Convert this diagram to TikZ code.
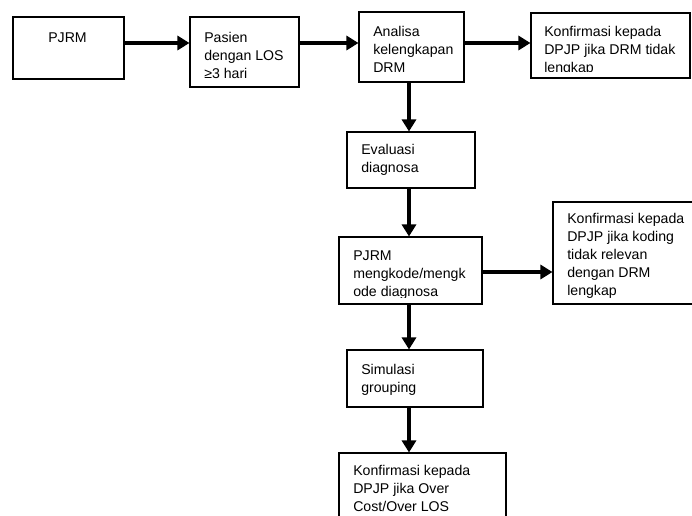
\documentclass[tikz,border=0pt]{standalone}
\usepackage{fontspec}
\setmainfont{Liberation Sans}
\usetikzlibrary{arrows.meta, fit}

\begin{document}
\begin{tikzpicture}[x=0.75pt, y=-0.75pt,
    box/.style={draw, line width=0.8pt, inner sep=0pt},
    txt/.style={anchor=base west, inner sep=0pt, font=\fontsize{10.6}{13.5}\selectfont},
    arr/.style={line width=3pt, -{Triangle[length=9pt, width=10.5pt]}}]
    \useasboundingbox (0,0) rectangle (692,515);
    \clip (0,0) rectangle (692,515);
    % Boxes
    \node[box, fit={(13,17) (124,79)}] (pjrm) {};
    \node[box, fit={(190,17) (299,87)}] (pasien) {};
    \node[box, fit={(359,12) (464,82)}] (analisa) {};
    \node[box, fit={(531,13) (690,78)}] (konf1) {};
    \node[box, fit={(347,132) (475,188)}] (evaluasi) {};
    \node[box, fit={(339,237) (482,304)}] (koding) {};
    \node[box, fit={(553,202) (696,304)}] (konf2) {};
    \node[box, fit={(347,350) (483,407)}] (simulasi) {};
    \node[box, fit={(339,453) (506,530)}] (konf3) {};
    % Texts
    \node[txt, anchor=base] (pjrmtext) at (67.5,42) {PJRM};
    \node[txt] (pasientext) at (204,42) {\parbox[t]{120pt}{Pasien\\dengan LOS\\≥3 hari}};
    \node[txt] (analisatext) at (373,36) {\parbox[t]{120pt}{Analisa\\kelengkapan\\DRM}};
    \begin{scope}
        \clip (konf1.north west) rectangle (690,71.8);
        \node[txt] (konf1text) at (544,36) {\parbox[t]{150pt}{Konfirmasi kepada\\DPJP jika DRM tidak\\lengkap}};
    \end{scope}
    \node[txt] (evaluasitext) at (361,154) {\parbox[t]{120pt}{Evaluasi\\diagnosa}};
    \begin{scope}
        \clip (koding.north west) rectangle (482,297.8);
        \node[txt] (kodingtext) at (353,260) {\parbox[t]{150pt}{PJRM\\mengkode/mengk\\ode diagnosa}};
    \end{scope}
    \begin{scope}
        \clip (konf2.north west) rectangle (692,297);
        \node[txt] (konf2text) at (567,223.5) {\parbox[t]{150pt}{Konfirmasi kepada\\DPJP jika koding\\tidak relevan\\dengan DRM\\lengkap}};
    \end{scope}
    \node[txt] (simulasitext) at (361,374) {\parbox[t]{120pt}{Simulasi\\grouping}};
    \node[txt] (konf3text) at (353,475) {\parbox[t]{150pt}{Konfirmasi kepada\\DPJP jika Over\\Cost/Over LOS}};
    % Arrows
    \coordinate (row) at (0,43);
    \coordinate (col) at (409,0);
    \coordinate (row2) at (0,272);
    \draw[arr] (pjrm.east |- row) -- (pasien.west |- row);
    \draw[arr] (pasien.east |- row) -- (analisa.west |- row);
    \draw[arr] (analisa.east |- row) -- (konf1.west |- row);
    \draw[arr] (col |- analisa.south) -- (col |- evaluasi.north);
    \draw[arr] (col |- evaluasi.south) -- (col |- koding.north);
    \draw[arr] (koding.east |- row2) -- (konf2.west |- row2);
    \draw[arr] (col |- koding.south) -- (col |- simulasi.north);
    \draw[arr] (col |- simulasi.south) -- (col |- konf3.north);
\end{tikzpicture}
\end{document}
